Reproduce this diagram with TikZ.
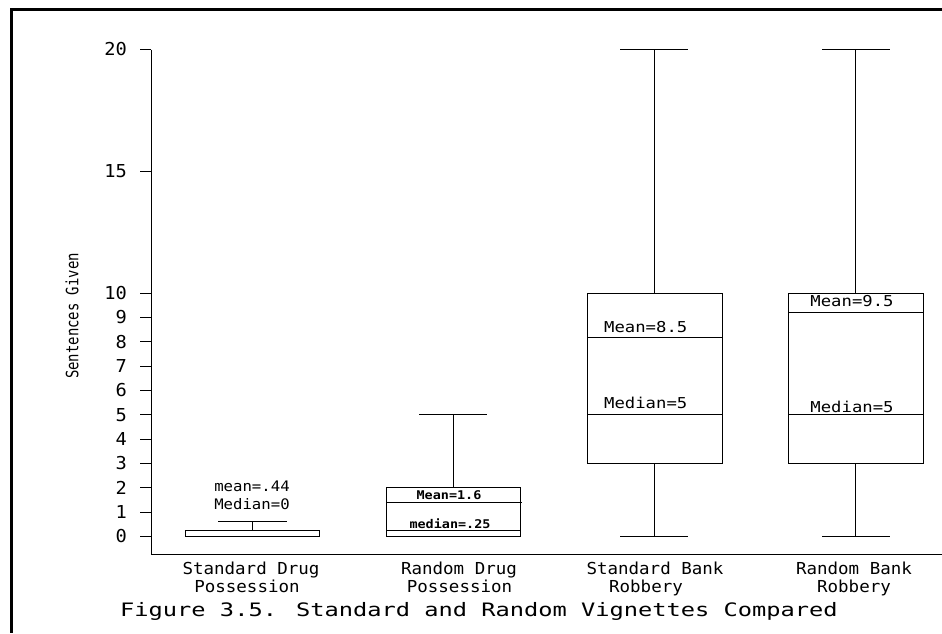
\documentclass[tikz,border=0pt]{standalone}
\usepackage{fontspec}
\setmainfont{DejaVu Sans Mono}
\newfontfamily\capfont[FakeStretch=1.28]{DejaVu Sans Mono}
\newfontfamily\catfont[FakeStretch=1.06]{DejaVu Sans Mono}
\newfontfamily\ytfont[FakeStretch=0.82]{DejaVu Sans Mono}
\newfontfamily\lblfont[FakeStretch=1.15]{DejaVu Sans Mono}
\newfontfamily\drgfont[FakeStretch=1.08]{DejaVu Sans Mono}
\newfontfamily\tickfont[FakeStretch=1.05]{DejaVu Sans Mono}
\newfontfamily\smlfont[FakeStretch=1.12]{DejaVu Sans Mono}
\tikzset{
  frameline/.style={line width=3pt},
  axisline/.style={line width=1pt},
  plotline/.style={line width=1pt},
  ticklabel/.style={anchor=east,inner sep=0pt,font=\tickfont\fontsize{17.8}{17.8}\selectfont},
  catlabel/.style={anchor=base,inner sep=0pt,font=\catfont\fontsize{16.5}{16.5}\selectfont},
  ytitlelabel/.style={inner sep=0pt,rotate=90,font=\ytfont\fontsize{17}{17}\selectfont},
  boxlabel/.style={inner sep=0pt,font=\lblfont\fontsize{15}{15}\selectfont},
  druglabel/.style={inner sep=0pt,font=\drgfont\fontsize{14.5}{14.5}\selectfont},
  smalllabel/.style={inner sep=0pt,font=\smlfont\bfseries\fontsize{12}{12}\selectfont},
  captionlabel/.style={anchor=base,inner sep=0pt,font=\capfont\fontsize{18.5}{18.5}\selectfont},
}
\begin{document}
\begin{tikzpicture}[x=1pt,y=-1pt]
\useasboundingbox (0,0) rectangle (942,633);
% frame
\coordinate (frTR) at (942,9);
\coordinate (frTL) at (11,9);
\coordinate (frBL) at (11,633);
\draw[frameline] (frTR) -- (frTL) -- (frBL);
% axes
\coordinate (axTop) at (151,49.5);
\coordinate (axOrigin) at (151,554);
\coordinate (axRight) at (942,554);
\draw[axisline] (axTop) -- (axOrigin) -- (axRight);
\begin{scope}[shift={(0,536.5)}, y={(0pt,24.35pt)}]
  \foreach \v in {0,1,2,3,4,5,6,7,8,9,10,15,20}{
    \draw[axisline] (140,\v) -- (151,\v);
    \node[ticklabel] (tick\v) at (127,\v) {\v};
  }
  % box 1: Standard Drug Possession
  \coordinate (b1sw) at (185,0);
  \coordinate (b1ne) at (319,0.25);
  \coordinate (b1wlo) at (252,0.25);
  \coordinate (b1whi) at (252,0.6);
  \draw[plotline] (b1sw) rectangle (b1ne);
  \draw[plotline] (b1wlo) -- (b1whi);
  \draw[plotline] (218,0.6) -- (287,0.6);
  % box 2: Random Drug Possession
  \coordinate (b2sw) at (386,0);
  \coordinate (b2ne) at (520,2);
  \coordinate (b2wlo) at (453,2);
  \coordinate (b2whi) at (453,5);
  \draw[plotline] (b2sw) rectangle (b2ne);
  \draw[plotline] (386,1.38) -- (522,1.38);
  \draw[plotline] (386,0.23) -- (520,0.23);
  \draw[plotline] (b2wlo) -- (b2whi);
  \draw[plotline] (419,5) -- (487,5);
  % box 3: Standard Bank Robbery
  \coordinate (b3sw) at (587,3);
  \coordinate (b3ne) at (722,10);
  \coordinate (b3top) at (654.5,10);
  \coordinate (b3max) at (654.5,20);
  \coordinate (b3bot) at (654.5,3);
  \coordinate (b3min) at (654.5,0);
  \draw[plotline] (b3sw) rectangle (b3ne);
  \draw[plotline] (587,8.18) -- (722,8.18);
  \draw[plotline] (587,5) -- (722,5);
  \draw[plotline] (b3top) -- (b3max);
  \draw[plotline] (b3bot) -- (b3min);
  \draw[plotline] (620,20) -- (688,20);
  \draw[plotline] (620,0) -- (688,0);
  % box 4: Random Bank Robbery
  \coordinate (b4sw) at (788,3);
  \coordinate (b4ne) at (923,10);
  \coordinate (b4top) at (855.7,10);
  \coordinate (b4max) at (855.7,20);
  \coordinate (b4bot) at (855.7,3);
  \coordinate (b4min) at (855.7,0);
  \draw[plotline] (b4sw) rectangle (b4ne);
  \draw[plotline] (788,9.19) -- (923,9.19);
  \draw[plotline] (788,5) -- (923,5);
  \draw[plotline] (b4top) -- (b4max);
  \draw[plotline] (b4bot) -- (b4min);
  \draw[plotline] (822,20) -- (890,20);
  \draw[plotline] (822,0) -- (890,0);
\end{scope}
% axis title
\node[ytitlelabel] (ytitle) at (72,316) {Sentences Given};
% box labels
\node[druglabel] (l1a) at (252,486) {mean=.44};
\node[druglabel] (l1b) at (252,504.5) {Median=0};
\node[smalllabel] (l2a) at (449,495.5) {Mean=1.6};
\node[smalllabel] (l2b) at (450,524) {median=.25};
\node[boxlabel,anchor=west] (l3a) at (604,327.5) {Mean=8.5};
\node[boxlabel,anchor=west] (l3b) at (604,402.7) {Median=5};
\node[boxlabel] (l4a) at (852,301.5) {Mean=9.5};
\node[boxlabel] (l4b) at (852,407) {Median=5};
% category labels
\node[catlabel] (c1a) at (251,574) {Standard Drug};
\node[catlabel] (c1b) at (247,592) {Possession};
\node[catlabel] (c2a) at (459,574) {Random Drug};
\node[catlabel] (c2b) at (459.5,592) {Possession};
\node[catlabel] (c3a) at (655,574) {Standard Bank};
\node[catlabel] (c3b) at (646,592) {Robbery};
\node[catlabel] (c4a) at (854,574) {Random Bank};
\node[catlabel] (c4b) at (854,592) {Robbery};
% caption
\node[captionlabel] (caption) at (479,616) {Figure 3.5. Standard and Random Vignettes Compared};
\end{tikzpicture}
\end{document}
